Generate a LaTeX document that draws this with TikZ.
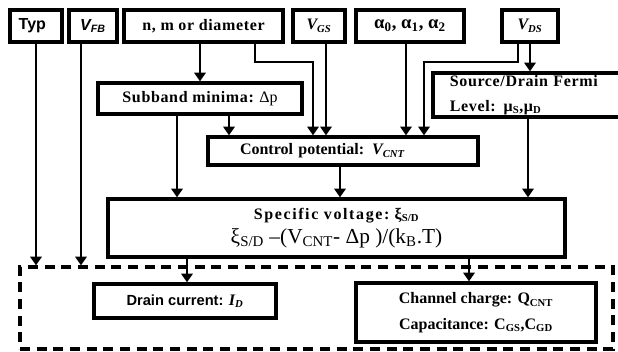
\documentclass[tikz,border=0pt]{standalone}
\usepackage{fontspec}
\setmainfont{Liberation Serif}
\newfontfamily\arialfont{Liberation Sans}
\newfontfamily\spacedfont[LetterSpace=4]{Liberation Serif}
\newfontfamily\widefont[LetterSpace=10]{Liberation Serif}
\usetikzlibrary{arrows.meta,calc}

\tikzset{
  blk/.style={draw, line width=2.5pt, inner sep=0pt, align=center,
              font=\bfseries\fontsize{12}{19}\selectfont},
  flow/.style={-{Triangle[width=8.5pt,length=6.5pt]}, line width=2pt},
  dashbox/.style={draw, line width=2.5pt, dash pattern=on 7.5pt off 5pt},
}

\begin{document}
\begin{tikzpicture}[x=0.75pt, y=-0.75pt, line join=miter]
  % picture is 618 x 351 px, y grows downwards
  \useasboundingbox (0,0) rectangle (618,351);

  % ---- Input boxes (top row) ----
  \node[blk, minimum width=39pt,     minimum height=24pt, text width=26pt, align=left]
       (typ) at (36,26) {\arialfont Typ};
  \node[blk, minimum width=36pt,     minimum height=24pt] (vfb)   at (93,26)    {\arialfont\itshape V\textsubscript{FB}};
  \node[blk, minimum width=119.25pt, minimum height=24pt] (nm)    at (203.5,26) {\spacedfont n, m or diameter};
  \node[blk, minimum width=39pt,     minimum height=24pt] (vgs)   at (319,26)   {\itshape V\textsubscript{GS}};
  \node[blk, minimum width=81pt,     minimum height=24pt] (alpha) at (410,26)
       {\fontsize{14}{16}\selectfont α\textsubscript{0}, α\textsubscript{1}, α\textsubscript{2}};
  \node[blk, minimum width=42pt,     minimum height=24pt] (vds)   at (530,26)   {\itshape V\textsubscript{DS}};

  % ---- Intermediate boxes ----
  \node[blk, minimum width=153pt, minimum height=23.25pt] (sub) at (200,98.5)
       {{\spacedfont Subband minima:} {\mdseries Δp}};
  \node[blk, minimum width=202.5pt, minimum height=21pt, text width=154.5pt, align=left]
       (ctrl) at (343,151) {Control potential: \textit{V\textsubscript{CNT}}};
  \node[blk, minimum width=140.25pt, minimum height=33pt, text width=115pt, align=left]
       (sdf) at (526.5,95)
       {\spacedfont Source/Drain Fermi\\Level: μ\textsubscript{S},μ\textsubscript{D}};
  \node[blk, minimum width=342.75pt, minimum height=43.5pt] (spec) at (336.5,228)
       {{\widefont Specific voltage:} ξ\textsubscript{S/D}\\[-1pt]
        {\mdseries\fontsize{16}{18}\selectfont ξ\textsubscript{S/D} –(V\textsubscript{CNT}- Δp )/(k\textsubscript{B}.T)}};

  % ---- Output group ----
  \node[dashbox, minimum width=444.75pt, minimum height=61.5pt] (dash) at (316.5,308) {};
  \node[blk, minimum width=136.5pt, minimum height=25.5pt] (drain) at (185,301)
       {{\arialfont\fontsize{11}{13}\selectfont Drain current:} \textit{I\textsubscript{D}}};
  \node[blk, minimum width=180pt, minimum height=44.25pt] (chan) at (476,312.5)
       {Channel charge: Q\textsubscript{CNT}\\Capacitance: C\textsubscript{GS},C\textsubscript{GD}};

  % ---- Tap points ----
  \coordinate (vfbout)  at ($(vfb.south)+(-12,0)$);
  \coordinate (nmout)   at ($(nm.south)+(51.5,0)$);
  \coordinate (vgsout)  at ($(vgs.south)+(7,0)$);
  \coordinate (alout)   at ($(alpha.south)+(-4,0)$);
  \coordinate (vdsout)  at ($(vds.south)+(-12,0)$);
  \coordinate (subout1) at ($(sub.south)+(-23,0)$);
  \coordinate (subout2) at ($(sub.south)+(29,0)$);
  \coordinate (ctrlout) at ($(ctrl.south)+(-3,0)$);
  \coordinate (sdfout)  at ($(sdf.south)+(1.5,0)$);
  \coordinate (specout1) at ($(spec.south)+(-149.5,0)$);
  \coordinate (specout2) at ($(spec.south)+(132.5,0)$);
  \coordinate (nmbend)  at (313,62);
  \coordinate (vdsbend) at (424,62);

  % ---- Connectors ----
  \draw[flow] (typ.south) -- (typ.south |- dash.north);
  \draw[flow] (vfbout) -- (vfbout |- dash.north);
  \draw[flow] (nm.south -| sub.north) -- (sub.north);
  \draw[flow] (nmout) |- (nmbend) -- (nmbend |- ctrl.north);
  \draw[flow] (vgsout) -- (vgsout |- ctrl.north);
  \draw[flow] (alout) -- (alout |- ctrl.north);
  \draw[flow] (vdsout) |- (vdsbend) -- (vdsbend |- ctrl.north);
  \draw[flow] (vds.south) -- (vds.south |- sdf.north);
  \draw[flow] (subout2) -- (subout2 |- ctrl.north);
  \draw[flow] (subout1) -- (subout1 |- spec.north);
  \draw[flow] (ctrlout) -- (ctrlout |- spec.north);
  \draw[flow] (sdfout) -- (sdfout |- spec.north);
  \draw[flow] (specout1) -- (specout1 |- drain.north);
  \draw[flow] (specout2) -- (specout2 |- chan.north);
\end{tikzpicture}
\end{document}
